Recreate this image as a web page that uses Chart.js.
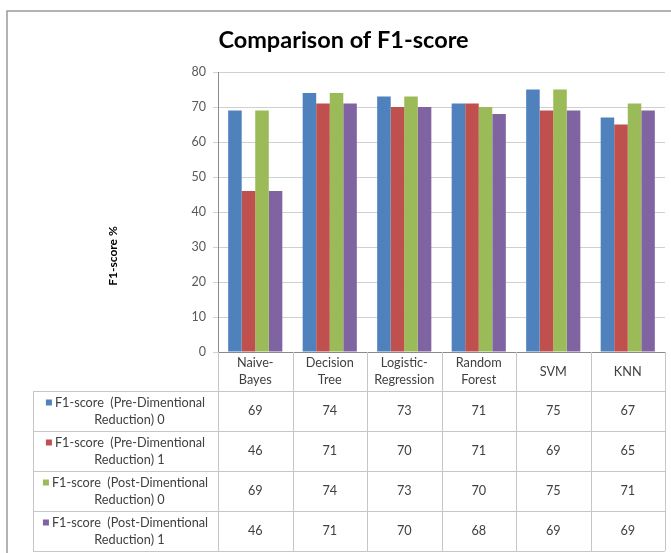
<!DOCTYPE html>
<html><head><meta charset="utf-8">
<script src="https://cdn.jsdelivr.net/npm/chart.js@4.4.0/dist/chart.umd.min.js"></script>
<style>html,body{margin:0;padding:0;background:#fff;overflow:hidden}canvas{display:block}</style>
</head><body>
<canvas id="c" width="671" height="553"></canvas>
<script>
const titleText = 'Comparison of F1-score';
const yAxisTitle = 'F1-score %';
const categories = [['Naive-','Bayes'],['Decision','Tree'],['Logistic-','Regression'],['Random','Forest'],['SVM'],['KNN']];
const seriesNames = [
  ['F1-score  (Pre-Dimentional', 'Reduction) 0'],
  ['F1-score  (Pre-Dimentional', 'Reduction) 1'],
  ['F1-score  (Post-Dimentional', 'Reduction) 0'],
  ['F1-score  (Post-Dimentional', 'Reduction) 1']
];
const preReduction0  = [69, 74, 73, 71, 75, 67];
const preReduction1  = [46, 71, 70, 71, 69, 65];
const postReduction0 = [69, 74, 73, 70, 75, 71];
const postReduction1 = [46, 71, 70, 68, 69, 69];
const yMin = 0, yMax = 80, yStep = 10;

const seriesValues = [preReduction0, preReduction1, postReduction0, postReduction1];
const colors = ['#4F81BD', '#C0504D', '#9BBB59', '#8064A2'];
const FONT = 'Lato, "Open Sans", sans-serif';
const lineColor = '#c6c6c6';
const textColor = '#404040';

const tablePlugin = {
  id: 'tableAndFrame',
  beforeDraw(chart) {
    const ctx = chart.ctx;
    ctx.save();
    ctx.fillStyle = '#fff';
    ctx.fillRect(0, 0, chart.width, chart.height);
    ctx.strokeStyle = '#9a9a9a';
    ctx.lineWidth = 1.5;
    ctx.beginPath();
    ctx.moveTo(7, chart.height); ctx.lineTo(7, 11); ctx.lineTo(chart.width, 11);
    ctx.stroke();
    ctx.restore();
  },
  afterDraw(chart) {
    const ctx = chart.ctx;
    const area = chart.chartArea;
    const xs = chart.scales.x;
    const n = categories.length;
    const catW = (area.right - area.left) / n;
    const legendLeft = 33;
    const headerTop = area.bottom;
    const headerH = 39, rowH = 40;
    const rowTops = [];
    for (let i = 0; i <= seriesValues.length; i++) rowTops.push(headerTop + headerH + i * rowH);
    const bottom = rowTops[rowTops.length - 1];
    ctx.save();

    // chart title
    ctx.fillStyle = '#000';
    ctx.textAlign = 'center';
    ctx.textBaseline = 'alphabetic';
    ctx.font = 'bold 23.5px ' + FONT;
    ctx.fillText(titleText, 343.5, 48);

    ctx.strokeStyle = lineColor;
    ctx.lineWidth = 1;
    ctx.beginPath();
    rowTops.forEach(y => { ctx.moveTo(legendLeft, Math.round(y) + 0.5); ctx.lineTo(area.right, Math.round(y) + 0.5); });
    for (let i = 0; i <= n; i++) {
      const x = Math.round(area.left + i * catW) + 0.5;
      ctx.moveTo(x, headerTop); ctx.lineTo(x, bottom);
    }
    ctx.moveTo(legendLeft + 0.5, rowTops[0]); ctx.lineTo(legendLeft + 0.5, bottom);
    ctx.stroke();

    ctx.fillStyle = textColor;
    ctx.textAlign = 'center';
    ctx.textBaseline = 'middle';
    ctx.font = '12.7px ' + FONT;
    const lh = 17;
    categories.forEach((lines, i) => {
      const cx = xs.getPixelForValue(i);
      const cy = headerTop + headerH / 2;
      lines.forEach((t, k) => ctx.fillText(t, cx, cy + (k - (lines.length - 1) / 2) * lh));
    });
    seriesValues.forEach((vals, r) => {
      const cy = rowTops[r] + rowH / 2;
      vals.forEach((v, i) => {
        ctx.fillStyle = textColor;
        ctx.fillText(String(v), xs.getPixelForValue(i), cy);
      });
      const lcx = (legendLeft + area.left) / 2;
      const lines = seriesNames[r];
      lines.forEach((t, k) => {
        const ty = cy + (k - (lines.length - 1) / 2) * lh;
        if (k === 0) {
          const w = ctx.measureText(t).width;
          const mk = 6, gap = 3;
          const total = mk + gap + w;
          const sx = lcx - total / 2;
          ctx.fillStyle = colors[r];
          ctx.fillRect(sx, ty - mk / 2, mk, mk);
          ctx.fillStyle = textColor;
          ctx.textAlign = 'left';
          ctx.fillText(t, sx + mk + gap, ty);
          ctx.textAlign = 'center';
        } else {
          ctx.fillStyle = textColor;
          ctx.fillText(t, lcx + 4, ty);
        }
      });
    });

    ctx.save();
    ctx.translate(113, 256);
    ctx.rotate(-Math.PI / 2);
    ctx.fillStyle = '#000';
    ctx.font = 'bold 12px ' + FONT;
    ctx.fillText(yAxisTitle, 0, 0);
    ctx.restore();
    ctx.restore();
  }
};

new Chart(document.getElementById('c'), {
  type: 'bar',
  data: {
    labels: categories,
    datasets: seriesValues.map((vals, i) => ({
      label: seriesNames[i].join(' '),
      data: vals,
      backgroundColor: colors[i],
      borderWidth: 0,
      categoryPercentage: 0.727,
      barPercentage: 1.0
    }))
  },
  options: {
    responsive: false,
    animation: false,
    devicePixelRatio: 1,
    layout: { padding: { top: 72, left: 0, right: 6, bottom: 0 } },
    plugins: {
      legend: { display: false },
      tooltip: { enabled: false },
      title: { display: false }
    },
    scales: {
      x: {
        ticks: { display: false },
        grid: { display: false },
        border: { display: true, color: '#8a8a8a' },
        afterFit(s) { s.height = 201; }
      },
      y: {
        min: yMin, max: yMax,
        ticks: { stepSize: yStep, color: '#595959', font: { family: FONT, size: 12.5 }, padding: 7 },
        grid: { color: '#d0d0d0', tickLength: 5, drawTicks: true },
        border: { display: true, color: '#8a8a8a' },
        afterFit(s) { s.width = 218; }
      }
    }
  },
  plugins: [tablePlugin]
});
</script>
</body></html>
